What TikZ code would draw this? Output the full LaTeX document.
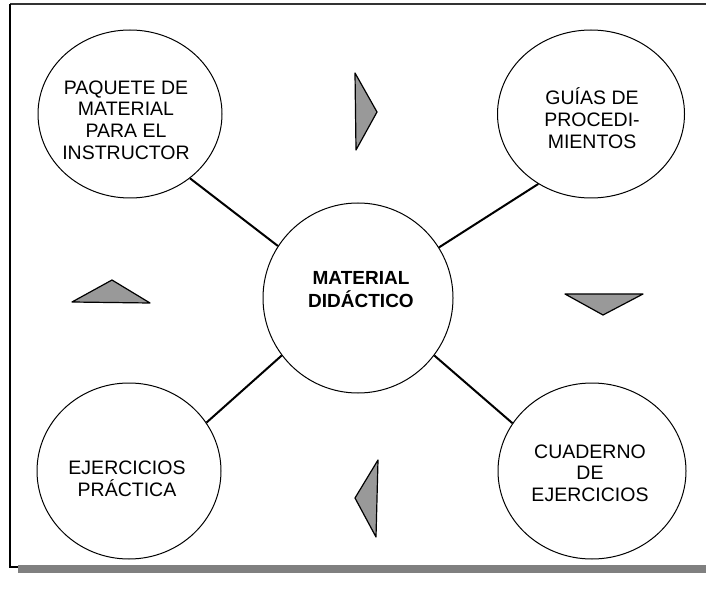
\documentclass[tikz,border=0pt]{standalone}
\usepackage{fontspec}
\setmainfont{Liberation Sans}
\usetikzlibrary{shapes.geometric}
\begin{document}
\begin{tikzpicture}[x=1pt,y=-1pt,
  bubble/.style={draw=black,line width=1pt,ellipse,inner sep=0pt},
  label/.style={align=center,inner sep=0pt,font=\fontsize{19.5}{21.7}\selectfont},
  midlabel/.style={align=center,inner sep=0pt,font=\fontsize{19}{23}\selectfont\bfseries},
  link/.style={draw=black,line width=2pt},
  tri/.style={draw=black,line width=1.2pt,line join=round,fill=black!40}]
\useasboundingbox (0,0) rectangle (706,593);
% frame
\draw[line width=2pt,black!80] (10,4.5) -- (706,4.5);
\draw[line width=1.3pt] (10,4.5) -- (10,567) -- (18,567);
\fill[black!50] (18,565) rectangle (706,573);
% circles
\node[bubble,minimum width=184pt,minimum height=168pt] (tl) at (130,114) {};
\node[bubble,minimum width=187pt,minimum height=168pt] (tr) at (591,114) {};
\node[bubble,minimum width=184pt,minimum height=176pt] (bl) at (129,471) {};
\node[bubble,minimum width=188pt,minimum height=176pt] (br) at (592,471) {};
\node[bubble,minimum width=190pt,minimum height=190pt] (c) at (358,298) {};
% texts
\node[label] (tlt) at (126,120) {PAQUETE DE\\MATERIAL\\PARA EL\\INSTRUCTOR};
\node[label] (trt) at (592,118) {GUÍAS DE\\PROCEDI-\\MIENTOS};
\node[label] (blt) at (127,479) {EJERCICIOS\\PRÁCTICA};
\node[label] (brt) at (590,473) {CUADERNO\\DE\\EJERCICIOS};
\node[midlabel] (ct) at (361,290) {MATERIAL\\DIDÁCTICO};
% connectors
\draw[link] (c.147) -- (tl.-47);
\draw[link] (c.32) -- (tr.-127);
\draw[link] (c.217) -- (bl.32);
\draw[link] (c.323) -- (br.149);
% triangles
\draw[tri] (355,73) -- (377,112) -- (356,150) -- cycle;
\draw[tri] (72,302) -- (112,280) -- (150,303) -- cycle;
\draw[tri] (565,294) -- (643,294) -- (603,315) -- cycle;
\draw[tri] (378,460) -- (355,498) -- (376,537) -- cycle;
\end{tikzpicture}
\end{document}
